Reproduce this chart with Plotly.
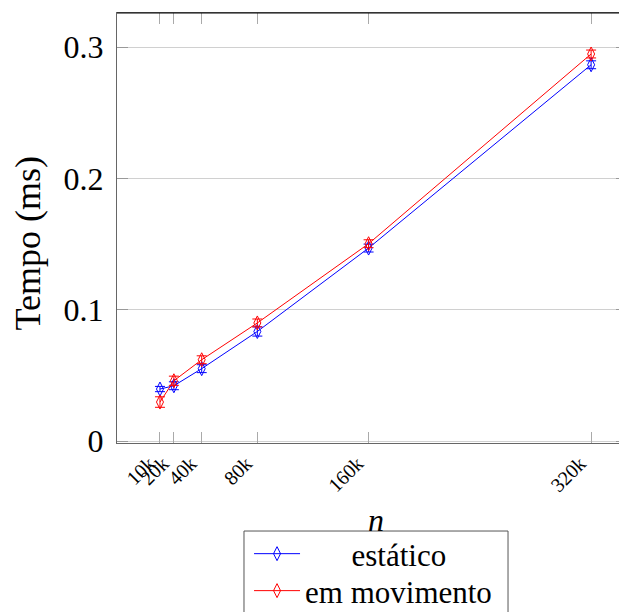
import plotly.graph_objects as go

n_values = [10, 20, 40, 80, 160, 320]
tick_labels = ["10k", "20k", "40k", "80k", "160k", "320k"]
estatico = [0.0397, 0.0422, 0.0552, 0.0835, 0.1470, 0.2865]
estatico_err = [0.002, 0.003, 0.003, 0.0035, 0.003, 0.003]
movimento = [0.0298, 0.0460, 0.0620, 0.0900, 0.1503, 0.2947]
movimento_err = [0.004, 0.0035, 0.003, 0.003, 0.003, 0.003]
y_ticks = [0, 0.1, 0.2, 0.3]
y_tick_labels = ["0", "0.1", "0.2", "0.3"]

FONT = "Liberation Serif, Times New Roman, serif"

fig = go.Figure()
for name, ys, errs, color, leg in [
    ("\u00a0\u00a0\u00a0\u00a0\u00a0\u00a0estático", estatico, estatico_err, "#0000ff", "legend"),
    ("em movimento", movimento, movimento_err, "#ff0000", "legend2"),
]:
    fig.add_trace(go.Scatter(
        x=n_values, y=ys, name=name, mode="lines+markers", legend=leg,
        line=dict(color=color, width=1),
        marker=dict(symbol="diamond-tall-open", size=10, color=color,
                    line=dict(color=color, width=1)),
        error_y=dict(type="data", array=errs, visible=True, color=color,
                     thickness=1, width=5),
    ))

legend_style = dict(
    xref="container", yref="container", xanchor="left", yanchor="top",
    borderwidth=0, bgcolor="rgba(0,0,0,0)", itemwidth=46,
    font=dict(family=FONT, size=31, color="black"),
)

fig.update_layout(
    width=619, height=604,
    margin=dict(l=109, r=0, t=5, b=169, autoexpand=False),
    paper_bgcolor="white", plot_bgcolor="white",
    font=dict(family=FONT, color="black"),
    showlegend=True,
    legend=dict(legend_style, x=0.3894, y=0.1407),
    legend2=dict(legend_style, x=0.3894, y=0.0795),
    shapes=[
        dict(type="rect", xref="paper", yref="paper",
             x0=0.249, x1=0.7667, y0=-0.5, y1=-0.2047,
             line=dict(color="#555555", width=1), fillcolor="rgba(0,0,0,0)",
             layer="below"),
        dict(type="line", xref="paper", yref="paper",
             x0=0, x1=1, y0=1, y1=1,
             line=dict(color="#000000", width=1)),
    ],
    xaxis=dict(
        range=[-20.9, 345.8],
        tickmode="array", tickvals=n_values, ticktext=tick_labels,
        tickangle=-45, tickfont=dict(family=FONT, size=20),
        ticklabelshift=-11,
        ticks="inside", ticklen=11, tickcolor="#aaaaaa", tickwidth=1,
        showline=True, linecolor="#666666", linewidth=1, mirror="ticks",
        showgrid=False, zeroline=False,
    ),
    yaxis=dict(
        range=[-0.00137, 0.3259],
        tickmode="array", tickvals=y_ticks, ticktext=y_tick_labels,
        tickfont=dict(family=FONT, size=32),
        ticks="inside", ticklen=11, tickcolor="#999999", tickwidth=1,
        ticklabelstandoff=6,
        showline=True, linecolor="#666666", linewidth=1, mirror="ticks",
        showgrid=True, gridcolor="#d0d0d0", gridwidth=1, zeroline=False,
    ),
    annotations=[
        dict(text="Tempo (ms)", textangle=-90, xref="paper", yref="paper",
             x=-0.1745, y=0.464, xanchor="center", yanchor="middle",
             showarrow=False, font=dict(family=FONT, size=36, color="black")),
        dict(text="<i>n</i>", xref="paper", yref="paper",
             x=0.508, y=-0.178, xanchor="center", yanchor="middle",
             showarrow=False, font=dict(family=FONT, size=32, color="black")),
    ],
)

fig.write_html("out.html")
